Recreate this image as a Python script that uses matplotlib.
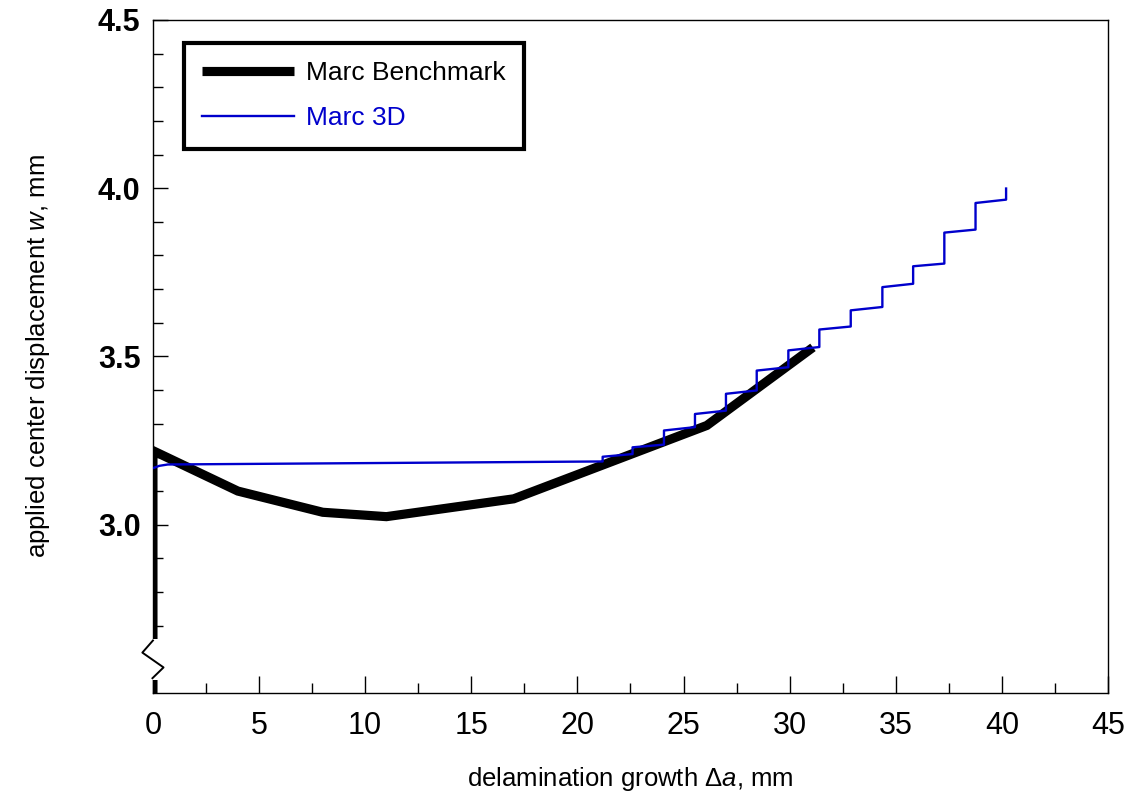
import matplotlib
matplotlib.use("Agg")
import matplotlib.pyplot as plt
from matplotlib.ticker import FixedLocator, MultipleLocator
from matplotlib.lines import Line2D
from matplotlib.patches import Rectangle

plt.rcParams['font.family'] = ['Liberation Sans', 'DejaVu Sans']
plt.rcParams['mathtext.fontset'] = 'custom'
plt.rcParams['mathtext.rm'] = 'Liberation Sans'
plt.rcParams['mathtext.it'] = 'Liberation Sans:italic'
plt.rcParams['mathtext.bf'] = 'Liberation Sans:bold'

# Marc Benchmark: delamination growth (mm) vs applied center displacement (mm)
bench_da = [0.0, 0.0, 4.0, 8.0, 11.0, 17.0, 26.1, 31.1]
bench_w = [0.0, 3.22, 3.10, 3.037, 3.024, 3.077, 3.295, 3.527]

# Marc 3D: initial nearly flat branch
m3d_flat_da = [0.0, 0.3, 0.7, 21.19]
m3d_flat_w = [3.168, 3.175, 3.179, 3.188]

# Marc 3D: staircase region (growth steps and displacement at each step)
m3d_step_da = [21.19, 22.6, 24.08, 25.54, 27.0, 28.45, 29.94, 31.4,
               32.88, 34.37, 35.82, 37.29, 38.76, 40.2]
m3d_step_w_start = [3.202, 3.230, 3.280, 3.329, 3.389, 3.458, 3.518, 3.580,
                    3.637, 3.706, 3.768, 3.868, 3.956]
m3d_step_w_end = [3.210, 3.238, 3.290, 3.339, 3.399, 3.468, 3.528, 3.589,
                  3.647, 3.716, 3.776, 3.877, 3.966]
m3d_final_w = 3.999

x_ticks = [0, 5, 10, 15, 20, 25, 30, 35, 40, 45]
y_ticks = [3.0, 3.5, 4.0, 4.5]
y_minor = [2.7, 2.8, 2.9, 3.1, 3.2, 3.3, 3.4, 3.6, 3.7, 3.8, 3.9, 4.1, 4.2, 4.3, 4.4]

# assemble the Marc 3D polyline
m3d_da = list(m3d_flat_da)
m3d_w = list(m3d_flat_w)
for i in range(len(m3d_step_w_start)):
    m3d_da += [m3d_step_da[i], m3d_step_da[i + 1]]
    m3d_w += [m3d_step_w_start[i], m3d_step_w_end[i]]
m3d_da.append(m3d_step_da[-1])
m3d_w.append(m3d_final_w)

blue = '#0000CC'

fig = plt.figure(figsize=(11.38, 7.97), dpi=100)
ax = fig.add_axes([0.1344, 0.1305, 0.8392, 0.8445])

ax.plot(bench_da, bench_w, color='black', lw=6.6, solid_joinstyle='miter',
        solid_capstyle='butt', label='Marc Benchmark', zorder=3)
ax.plot(m3d_da, m3d_w, color=blue, lw=1.7, label='Marc 3D', zorder=4)

ax.set_xlim(0, 45)
ax.set_ylim(2.5, 4.5)

ax.xaxis.set_major_locator(FixedLocator(x_ticks))
ax.xaxis.set_minor_locator(MultipleLocator(2.5))
ax.yaxis.set_major_locator(FixedLocator(y_ticks))
ax.yaxis.set_minor_locator(FixedLocator(y_minor))
ax.set_xticklabels([str(t) for t in x_ticks])
ax.set_yticklabels([f"{t:.1f}" for t in y_ticks], fontweight='bold')

ax.tick_params(which='both', direction='in', top=False, right=False,
               width=1.0, colors='black')
ax.tick_params(axis='x', which='major', length=12, labelsize=22, pad=13)
ax.tick_params(axis='x', which='minor', length=7)
ax.tick_params(axis='y', which='major', length=11, labelsize=22, pad=9)
ax.tick_params(axis='y', which='minor', length=7)

for s in ax.spines.values():
    s.set_linewidth(1.0)

ax.set_xlabel('delamination growth $\\Delta\\mathit{a}$, mm', fontsize=18.5, labelpad=17)
ax.set_ylabel('applied center displacement $\\mathit{w}$, mm', fontsize=18.5, labelpad=33)

# axis break on the displacement axis
y_lo, y_hi = 0.022, 0.078
dx = 0.0111
ax.add_patch(Rectangle((-0.02, y_lo - 0.002), 0.04, (y_hi - y_lo) + 0.004,
                       transform=ax.transAxes, facecolor='white',
                       edgecolor='none', clip_on=False, zorder=5))
zig = Line2D([0.0, -dx, dx, -0.0005],
             [y_hi, y_hi - 0.018, y_lo + 0.016, y_lo],
             transform=ax.transAxes, color='black', lw=1.4,
             clip_on=False, zorder=6)
ax.add_line(zig)

leg = ax.legend(loc='upper left', bbox_to_anchor=(0.032, 0.966), fontsize=19,
                frameon=True, fancybox=False, framealpha=1.0,
                handlelength=3.5, handletextpad=0.45, borderpad=0.7,
                labelspacing=0.8, labelcolor=['black', blue], borderaxespad=0)
leg.get_frame().set_edgecolor('black')
leg.get_frame().set_linewidth(3.0)

fig.savefig('out.png', dpi=100)
